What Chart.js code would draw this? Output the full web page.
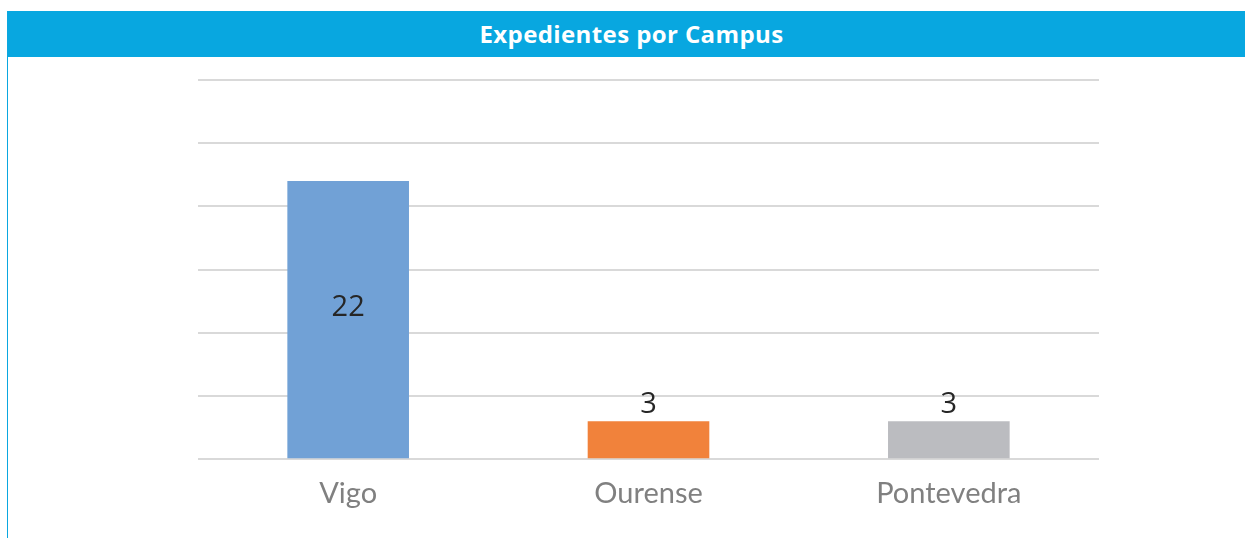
<!DOCTYPE html>
<html>
<head>
<meta charset="utf-8">
<script src="https://cdn.jsdelivr.net/npm/chart.js@4"></script>
<style>
    html, body { margin: 0; padding: 0; background: #fff; }
    #panel {
        position: absolute;
        left: 7px;
        top: 11px;
        width: 1238px;
        height: 527px;
        border-left: 1px solid #0aa7e0;
        box-sizing: border-box;
    }
    #header {
        height: 46px;
        background: #08a7e0;
        color: #fff;
        font-family: "Open Sans", sans-serif;
        font-weight: bold;
        font-size: 24px;
        letter-spacing: 0.4px;
        line-height: 46px;
        text-align: center;
        padding-left: 10px;
    }
    #chart-wrap { position: relative; width: 1237px; height: 481px; }
</style>
</head>
<body>
<div id="panel">
    <div id="header">Expedientes por Campus</div>
    <div id="chart-wrap"><canvas id="campusChart"></canvas></div>
</div>
<script>
// Chart data
const campusLabels = ['Vigo', 'Ourense', 'Pontevedra'];
const expedientes = [22, 3, 3];
const barColors = ['#71a1d6', '#f1823b', '#bbbcc0'];

// Draws the value of each bar (inside for tall bars, above for short ones)
const valueLabels = {
    id: 'valueLabels',
    afterDatasetsDraw(chart) {
        const ctx = chart.ctx;
        const meta = chart.getDatasetMeta(0);
        ctx.save();
        ctx.font = '29px "Open Sans", sans-serif';
        ctx.fillStyle = '#262626';
        ctx.textAlign = 'center';
        meta.data.forEach((bar, i) => {
            const value = expedientes[i];
            if (value > 10) {
                ctx.textBaseline = 'middle';
                ctx.fillText(value, bar.x, (bar.y + bar.base) / 2 - 12);
            } else {
                ctx.textBaseline = 'bottom';
                ctx.fillText(value, bar.x, bar.y - 2);
            }
        });
        ctx.restore();
    }
};

new Chart(document.getElementById('campusChart'), {
    type: 'bar',
    data: {
        labels: campusLabels,
        datasets: [{
            data: expedientes,
            backgroundColor: barColors,
            categoryPercentage: 1,
            barPercentage: 0.405
        }]
    },
    options: {
        responsive: true,
        maintainAspectRatio: false,
        animation: false,
        layout: { padding: { left: 190, right: 146, top: 23, bottom: 10 } },
        plugins: {
            legend: { display: false },
            title: { display: false },
            tooltip: { enabled: false }
        },
        scales: {
            y: {
                min: 0,
                max: 30,
                ticks: { display: false, stepSize: 5 },
                grid: { color: '#d9d9d9', lineWidth: 2, drawTicks: false },
                border: { display: false }
            },
            x: {
                ticks: {
                    color: '#808080',
                    padding: 17,
                    font: { family: 'Lato', size: 29 }
                },
                grid: { display: false, drawTicks: false },
                border: { display: false }
            }
        }
    },
    plugins: [valueLabels]
});
</script>
</body>
</html>
